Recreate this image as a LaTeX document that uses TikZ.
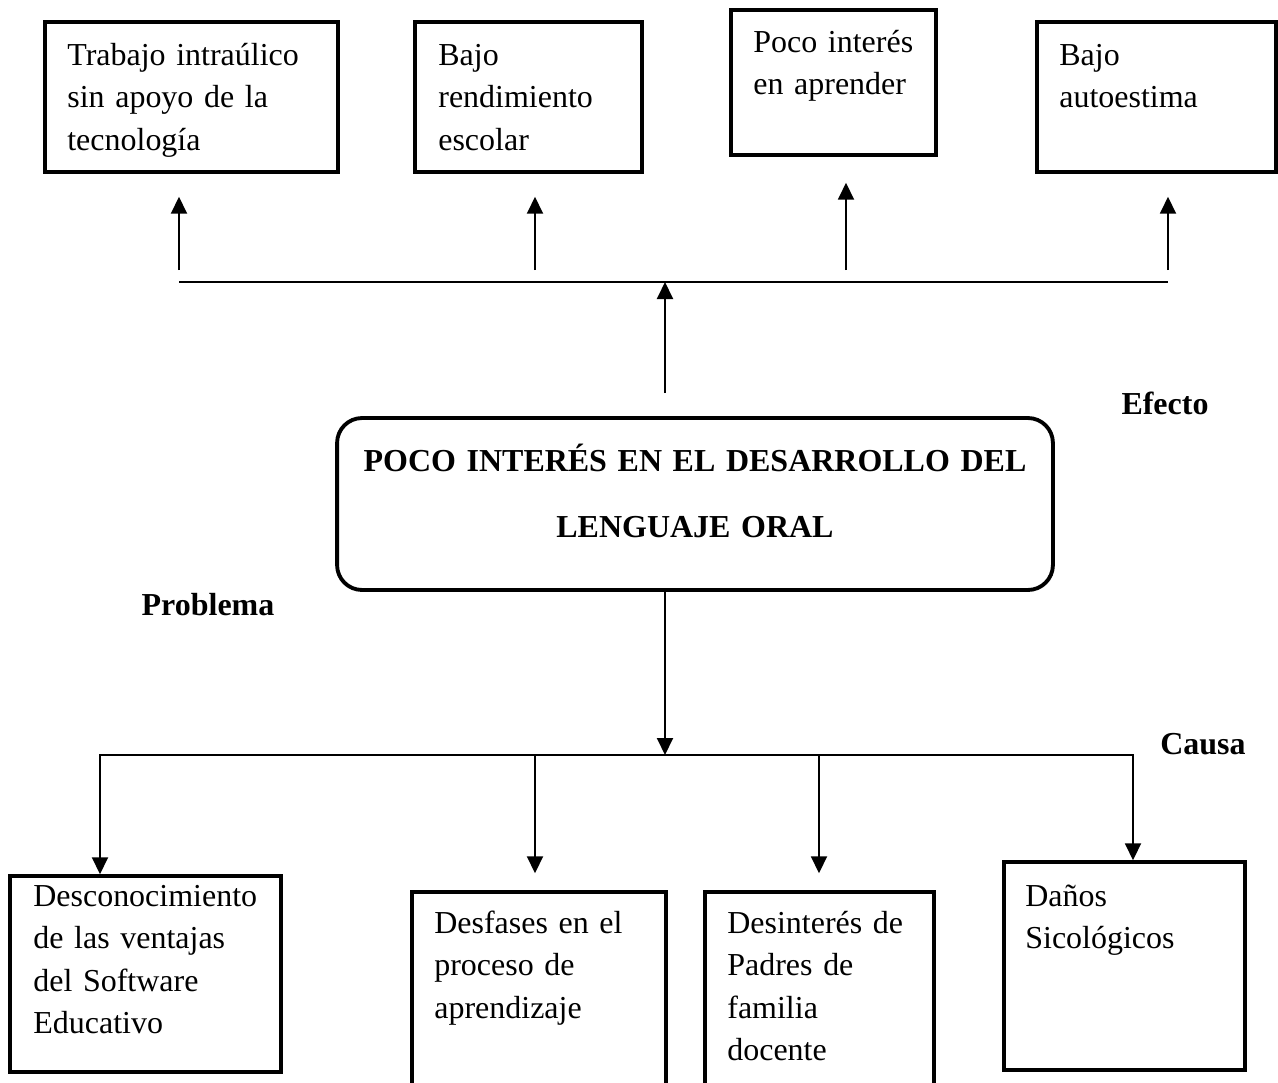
\documentclass[tikz,border=0pt]{standalone}
\usepackage{fontspec}
\setmainfont{Liberation Serif}
\usetikzlibrary {arrows.meta}

\begin{document}
\begin{tikzpicture}[x=0.02cm, y=-0.02cm,
  box/.style={draw, line width=2pt, inner sep=0pt},
  mainbox/.style={draw, line width=2.2pt, rounded corners=0.5cm, inner sep=0pt},
  txt/.style={anchor=base west, align=left, inner sep=0pt, text width=6cm,
    font=\fontsize{18.2}{24.2}\selectfont},
  maintxt/.style={anchor=base, align=center, inner sep=0pt, text width=14cm,
    font=\bfseries\fontsize{18.2}{38}\selectfont},
  lbl/.style={inner sep=0pt, font=\bfseries\fontsize{18.2}{22}\selectfont},
  conn/.style={line width=1.1pt},
  arr/.style={line width=1.1pt, -{Triangle[length=0.34cm, width=0.32cm]}}]

\useasboundingbox (0,0) rectangle (1278,1082);

% efectos
\node[box, minimum width=5.86cm, minimum height=3cm] (ef1) at (191.5,97) {};
\node[box, minimum width=4.54cm, minimum height=3cm] (ef2) at (528.5,97) {};
\node[box, minimum width=4.10cm, minimum height=2.9cm] (ef3) at (833.5,82.5) {};
\node[box, minimum width=4.78cm, minimum height=3cm] (ef4) at (1156.5,97) {};
\node[txt] (tef1) at (67,65) {Trabajo intraúlico\\sin apoyo de la\\tecnología};
\node[txt] (tef2) at (438,65) {Bajo\\rendimiento\\escolar};
\node[txt] (tef3) at (753,52) {Poco interés\\en aprender};
\node[txt] (tef4) at (1059,65) {Bajo\\autoestima};

% problema
\node[mainbox, minimum width=14.32cm, minimum height=3.44cm] (prob) at (695,504) {};
\node[maintxt] (tprob) at (695,471) {POCO INTERÉS EN EL DESARROLLO DEL\\LENGUAJE ORAL};

% causas
\node[box, minimum width=5.42cm, minimum height=3.92cm] (ca1) at (145.5,974) {};
\node[box, minimum width=5.08cm, minimum height=4.0cm] (ca2) at (539,992) {};
\node[box, minimum width=4.58cm, minimum height=4.0cm] (ca3) at (819.5,992) {};
\node[box, minimum width=4.82cm, minimum height=4.16cm] (ca4) at (1124.5,966) {};
\node[txt] (tca1) at (33,906) {Desconocimiento\\de las ventajas\\del Software\\Educativo};
\node[txt] (tca2) at (434,933) {Desfases en el\\proceso de\\aprendizaje};
\node[txt] (tca3) at (727,933) {Desinterés de\\Padres de\\familia\\docente};
\node[txt] (tca4) at (1025,906) {Daños\\Sicológicos};

% etiquetas
\node[lbl] (efecto) at (1165,403) {Efecto};
\node[lbl] (problema) at (208,605) {Problema};
\node[lbl] (causa) at (1203,744) {Causa};

% conectores arriba
\coordinate (u1) at (179,282);
\coordinate (u2) at (535,282);
\coordinate (u3) at (846,282);
\coordinate (u4) at (1168,282);
\coordinate (um) at (665,282);
\draw[conn] (u1) -- (u4);
\foreach \i/\g in {1/0.46cm, 2/0.46cm, 3/0.52cm, 4/0.46cm}
  \draw[arr, shorten <=0.24cm, shorten >=\g] (u\i) -- (u\i |- ef\i.south);
\draw[arr, shorten <=0.46cm] (um |- prob.north) -- (um);

% conectores abajo
\coordinate (d1) at (100,755);
\coordinate (d2) at (535,755);
\coordinate (d3) at (819,755);
\coordinate (d4) at (1133,755);
\coordinate (dm) at (665,755);
\draw[conn, line cap=rect] (d1) -- (d4);
\draw[arr] (prob.south -| dm) -- (dm);
\foreach \i/\g in {1/0cm, 2/0.34cm, 3/0.34cm, 4/0cm}
  \draw[arr, shorten >=\g] (d\i) -- (d\i |- ca\i.north);

\end{tikzpicture}
\end{document}
